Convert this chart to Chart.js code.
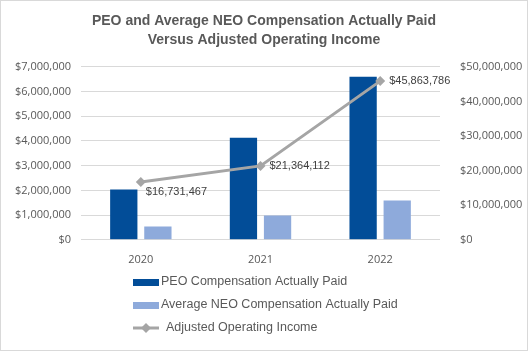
<!DOCTYPE html>
<html>
<head>
<meta charset="utf-8">
<script src="https://cdn.jsdelivr.net/npm/chart.js@4"></script>
<style>
  html, body { margin: 0; padding: 0; background: #fff; }
  #wrap { position: relative; width: 528px; height: 351px; }
</style>
</head>
<body>
<div id="wrap"><canvas id="chart" width="528" height="351"></canvas></div>
<script>
// data
const years = ['2020', '2021', '2022'];
const peoPaid = [2040000, 4130000, 6600000];
const neoPaid = [540000, 980000, 1590000];
const operatingIncome = [16731467, 21364112, 45863786];

const titleLines = ['PEO and Average NEO Compensation Actually Paid', 'Versus Adjusted Operating Income'];
const FONT = "'Liberation Sans', 'DejaVu Sans', sans-serif";
const TICKFONT = "'Open Sans', 'Liberation Sans', sans-serif";

const money = (v) => '$' + Math.round(v).toLocaleString('en-US');

// white background + thin frame
const frame = {
  id: 'frame',
  beforeDraw(chart) {
    const c = chart.ctx;
    c.save();
    c.fillStyle = '#fff';
    c.fillRect(0, 0, chart.width, chart.height);
    c.strokeStyle = '#d9d9d9';
    c.lineWidth = 1;
    c.strokeRect(0.5, 0.5, chart.width - 1, chart.height - 1);
    c.restore();
  }
};

// value labels next to the line points
const lineLabels = {
  id: 'lineLabels',
  afterDatasetsDraw(chart) {
    const c = chart.ctx;
    const meta = chart.getDatasetMeta(2);
    c.save();
    c.font = '11px ' + FONT;
    c.fillStyle = '#404040';
    c.textAlign = 'left';
    c.textBaseline = 'middle';
    meta.data.forEach((pt, i) => {
      const txt = money(operatingIncome[i]);
      if (i === 0) c.fillText(txt, pt.x + 5, pt.y + 10);
      else c.fillText(txt, pt.x + 9, pt.y);
    });
    c.restore();
  }
};

// vertical legend under the plot
const stackLegend = {
  id: 'stackLegend',
  afterDraw(chart) {
    const c = chart.ctx;
    const x0 = 133, ys = [282, 305, 328];
    c.save();
    c.font = '12.5px ' + FONT;
    c.textBaseline = 'middle';
    chart.data.datasets.forEach((ds, i) => {
      const y = ys[i];
      if (ds.type === 'line') {
        c.strokeStyle = ds.borderColor;
        c.lineWidth = 3;
        c.beginPath();
        c.moveTo(x0, y);
        c.lineTo(x0 + 26, y);
        c.stroke();
        c.fillStyle = ds.backgroundColor;
        c.beginPath();
        c.moveTo(x0 + 13, y - 5);
        c.lineTo(x0 + 18, y);
        c.lineTo(x0 + 13, y + 5);
        c.lineTo(x0 + 8, y);
        c.closePath();
        c.fill();
        c.fillStyle = '#595959';
        c.fillText(ds.label, x0 + 33, y);
      } else {
        c.fillStyle = ds.backgroundColor;
        c.fillRect(x0, y - 3, 26, 7);
        c.fillStyle = '#595959';
        c.fillText(ds.label, x0 + 28, y);
      }
    });
    c.restore();
  }
};

new Chart(document.getElementById('chart'), {
  data: {
    labels: years,
    datasets: [
      {
        type: 'bar',
        label: 'PEO Compensation Actually Paid',
        data: peoPaid,
        backgroundColor: '#024d98',
        yAxisID: 'y',
        order: 1,
        categoryPercentage: 0.57,
        barPercentage: 0.8
      },
      {
        type: 'bar',
        label: 'Average NEO Compensation Actually Paid',
        data: neoPaid,
        backgroundColor: '#8eaadb',
        yAxisID: 'y',
        order: 1,
        categoryPercentage: 0.57,
        barPercentage: 0.8
      },
      {
        type: 'line',
        label: 'Adjusted Operating Income',
        data: operatingIncome,
        borderColor: '#a5a5a5',
        backgroundColor: '#a5a5a5',
        borderWidth: 3,
        pointStyle: 'rectRot',
        pointRadius: 5,
        pointBorderWidth: 0,
        yAxisID: 'y1',
        order: 0
      }
    ]
  },
  options: {
    responsive: false,
    animation: false,
    layout: { padding: { left: 0, right: 0, top: 8, bottom: 80 } },
    plugins: {
      legend: { display: false },
      tooltip: { enabled: false },
      title: {
        display: true,
        text: titleLines,
        color: '#595959',
        font: { family: FONT, size: 14, weight: 'bold', lineHeight: 1.35 },
        padding: { top: 4, bottom: 17 }
      }
    },
    scales: {
      x: {
        grid: { display: false },
        border: { display: false },
        ticks: { color: '#595959', font: { family: TICKFONT, size: 11 }, padding: 5 }
      },
      y: {
        position: 'left',
        min: 0, max: 7000000,
        afterFit: (s) => { s.width = 81; },
        ticks: { stepSize: 1000000, color: '#595959', font: { family: TICKFONT, size: 11 }, padding: 10, callback: (v) => money(v) },
        grid: { color: '#d9d9d9', drawTicks: false },
        border: { display: false }
      },
      y1: {
        position: 'right',
        min: 0, max: 50000000,
        afterFit: (s) => { s.width = 88; },
        ticks: { stepSize: 10000000, color: '#595959', font: { family: TICKFONT, size: 11 }, padding: 12, callback: (v) => money(v) },
        grid: { display: false },
        border: { display: false }
      }
    }
  },
  plugins: [frame, lineLabels, stackLegend]
});
</script>
</body>
</html>
